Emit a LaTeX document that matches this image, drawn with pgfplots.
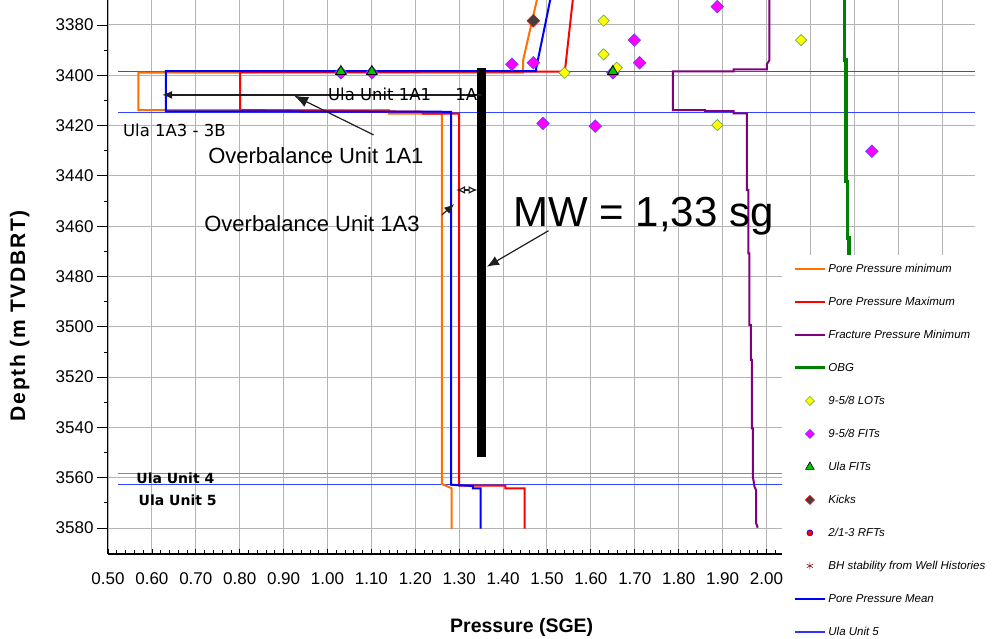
\documentclass[border=0pt]{standalone}
\usepackage{fontspec}
\setmainfont{Liberation Sans}
\newfontfamily\dejavu{DejaVu Sans}
\usepackage{pgfplots}
\pgfplotsset{compat=1.18}
\usetikzlibrary{arrows.meta}
\definecolor{ppmin}{RGB}{255,112,0}
\definecolor{ppmax}{RGB}{255,0,0}
\definecolor{frac}{RGB}{128,0,128}
\definecolor{obg}{RGB}{0,128,0}
\definecolor{ppmean}{RGB}{0,0,255}
\definecolor{ula}{RGB}{50,70,255}
\definecolor{gridc}{RGB}{180,180,180}
\definecolor{lotfill}{RGB}{255,255,0}
\definecolor{lotedge}{RGB}{110,170,80}
\definecolor{fitfill}{RGB}{255,0,255}
\definecolor{fitedge}{RGB}{110,60,255}
\definecolor{ulafit}{RGB}{0,200,0}
\definecolor{kick}{RGB}{64,64,64}
\definecolor{bh}{RGB}{150,20,20}
\definecolor{arr}{RGB}{30,30,30}
\newcommand\legfont{\fontsize{11.5}{13}\selectfont\itshape}
\pgfplotsset{
  legline/.style={legend image code/.code={\draw[##1] (0pt,0pt) -- (30pt,0pt);}},
  legmark/.style={legend image code/.code={\path[draw=none,fill=none] (0pt,0pt) -- (30pt,0pt);\draw[##1] plot coordinates {(15pt,0pt)};}},
}
\begin{document}
\begin{tikzpicture}
\useasboundingbox (-108pt,-85pt) rectangle (887pt,554pt);
\begin{axis}[
  scale only axis, width=867pt, height=554pt, at={(0pt,0pt)}, anchor=south west,
  xmin=0.5, xmax=2.475, ymin=3370.06, ymax=3590.34, y dir=reverse,
  xtick={0.5,0.6,...,2.45}, ytick={3380,3400,...,3580},
  xticklabels={}, yticklabels={},
  major tick length=0pt, minor tick length=0pt,
  axis line style={draw=none},
  grid=major, major grid style={gridc, line width=1pt},
  legend cell align=left,
  legend style={at={(axis cs:2.0358,3471.45)}, anchor=north west, draw=none, fill=white,
    inner xsep=11pt, inner ysep=5.7pt, row sep=17pt, font=\legfont,
    nodes={inner sep=0pt, text height=12pt, text depth=4pt},
    /tikz/every odd column/.append style={column sep=2pt}},
]
% Ula unit lines
\addplot[ula, line width=1pt, forget plot] coordinates {(0.5235,3398.6) (2.475,3398.6)};
\addplot[ula, line width=1pt, forget plot] coordinates {(0.5235,3414.9) (2.475,3414.9)};
\addplot[ula!70, line width=1pt, forget plot] coordinates {(0.5235,3558.3) (2.475,3558.3)};
\addplot[ula, line width=1pt, forget plot] coordinates {(0.5235,3562.8) (2.475,3562.8)};
% OBG
\addplot[obg, line width=3.5pt, forget plot] coordinates {(2.1777,3370) (2.1777,3393.9) (2.1816,3393.9) (2.1816,3442.3) (2.1845,3442.3) (2.1845,3464.7) (2.1877,3464.7) (2.1877,3590)};
% Fracture pressure minimum
\addplot[frac, line width=2pt, forget plot] coordinates {(2.0068,3370) (2.0068,3394) (2.0011,3395.5) (2.0011,3397.6) (1.925,3397.6) (1.925,3398.4) (1.787,3398.4) (1.787,3413.8) (1.860,3413.8) (1.860,3414.2) (1.925,3414.2) (1.925,3415.1) (1.9554,3415.1) (1.9554,3445.6) (1.959,3445.6) (1.959,3470.8) (1.961,3470.8) (1.961,3499.3) (1.9645,3499.3) (1.9645,3513.2) (1.9667,3513.2) (1.9667,3540.4) (1.969,3540.4) (1.969,3559.6) (1.9727,3563.6) (1.9765,3565) (1.9765,3578.1) (1.980,3579.9)};
% Pore pressure minimum
\addplot[ppmin, line width=2pt, forget plot] coordinates {(1.4770,3370) (1.4458,3393.9) (1.4451,3398.9) (0.569,3398.9) (0.569,3413.8) (1.14,3413.8) (1.14,3415.2) (1.2606,3415.2) (1.2606,3562.5) (1.283,3564.2) (1.283,3580.4)};
% Pore pressure maximum
\addplot[ppmax, line width=2pt, forget plot] coordinates {(1.5588,3370) (1.5415,3397.2) (1.5415,3398.5) (0.801,3398.7) (0.801,3413.8) (1.2173,3414.5) (1.2173,3415.2) (1.300,3415.2) (1.300,3563.2) (1.405,3563.2) (1.405,3564.2) (1.449,3564.2) (1.449,3580.2)};
% Pore pressure mean
\addplot[ppmean, line width=2pt, forget plot] coordinates {(1.5073,3370) (1.5034,3373.4) (1.4754,3397.2) (1.4754,3398.3) (0.632,3398.3) (0.632,3414.3) (1.2818,3414.5) (1.2818,3562.8) (1.331,3563.3) (1.331,3564.2) (1.349,3564.2) (1.349,3580.2)};
% 9-5/8 FITs
\addplot[only marks, mark=square*, mark size=4.4pt, mark options={rotate=45, fill=fitfill, draw=fitedge, line width=0.7pt}, forget plot] coordinates {(1.420,3395.6) (1.469,3395) (1.699,3386) (1.711,3395) (1.650,3399) (1.491,3419.1) (1.610,3420.2) (1.888,3372.7) (2.240,3430.2) (1.0305,3399) (1.1011,3399)};
% 9-5/8 LOTs
\addplot[only marks, mark=square*, mark size=4pt, mark options={rotate=45, fill=lotfill, draw=lotedge, line width=0.7pt}, forget plot] coordinates {(1.629,3378.3) (1.629,3391.7) (1.659,3397) (1.540,3399) (2.079,3386) (1.888,3419.8)};
% Kicks
\addplot[only marks, mark=square*, mark size=4.4pt, mark options={rotate=45, fill=kick, draw=red, line width=0.7pt}, forget plot] coordinates {(1.469,3378.3)};
% Ula FITs
\addplot[only marks, mark=triangle*, mark size=6pt, mark options={fill=ulafit, draw=black, line width=0.8pt}, forget plot] coordinates {(1.0305,3398.5) (1.1011,3398.5) (1.650,3398.5)};
% MW bar
\addplot[black, line width=9.3pt, forget plot] coordinates {(1.3509,3397.1) (1.3509,3551.8)};
% annotations
\draw[arr, line width=1.2pt, -{Latex[length=10pt,width=8pt]}] (axis cs:1.355,3407.8) -- (axis cs:0.6235,3407.8);
\draw[arr, line width=1.2pt, -{Latex[length=14pt,width=11pt]}] (axis cs:1.105,3423.7) -- (axis cs:0.924,3408.1);
\draw[arr, line width=1.2pt, -{Latex[length=10pt,width=8pt]}] (axis cs:1.2606,3455.5) -- (axis cs:1.2886,3451.2);
\draw[arr, line width=1.2pt, {Latex[open,length=9pt,width=8pt]}-{Latex[open,length=9pt,width=8pt]}] (axis cs:1.2931,3445.6) -- (axis cs:1.3417,3445.6);
\draw[arr, line width=1.2pt, -{Latex[length=12pt,width=10pt]}] (axis cs:1.5034,3461.8) -- (axis cs:1.3631,3476.1);
\node[anchor=base west, inner sep=0pt, font=\fontsize{16.5}{18}\dejavu] at (axis cs:1.0009,3410.1) {Ula Unit 1A1};
\node[anchor=base west, inner sep=0pt, font=\fontsize{16.5}{18}\dejavu] at (axis cs:1.2909,3410.1) {1A2};
\node[anchor=base west, inner sep=0pt, font=\fontsize{16.5}{18}\dejavu] at (axis cs:0.534,3424.4) {Ula 1A3 - 3B};
\node[anchor=base west, inner sep=0pt, font=\fontsize{22}{24}\selectfont] at (axis cs:0.728,3435.2) {Overbalance Unit 1A1};
\node[anchor=base west, inner sep=0pt, font=\fontsize{22}{24}\selectfont] at (axis cs:0.719,3462.2) {Overbalance Unit 1A3};
\node[anchor=base west, inner sep=0pt, font=\fontsize{42}{46}\selectfont] at (axis cs:1.4226,3460.2) {MW = 1,33 sg};
\node[anchor=base west, inner sep=0pt, font=\fontsize{14}{16}\dejavu\bfseries] at (axis cs:0.5642,3562.2) {Ula Unit 4};
\node[anchor=base west, inner sep=0pt, font=\fontsize{14}{16}\dejavu\bfseries] at (axis cs:0.5695,3570.9) {Ula Unit 5};
% legend
\addlegendimage{legline, ppmin, line width=2pt}
\addlegendentry{Pore Pressure minimum}
\addlegendimage{legline, ppmax, line width=2pt}
\addlegendentry{Pore Pressure Maximum}
\addlegendimage{legline, frac, line width=2pt}
\addlegendentry{Fracture Pressure Minimum}
\addlegendimage{legline, obg, line width=3pt}
\addlegendentry{OBG}
\addlegendimage{legmark, mark=square*, mark size=3.2pt, mark options={rotate=45, fill=lotfill, draw=lotedge, line width=0.6pt}}
\addlegendentry{9-5/8 LOTs}
\addlegendimage{legmark, mark=square*, mark size=3.2pt, mark options={rotate=45, fill=fitfill, draw=fitedge, line width=0.6pt}}
\addlegendentry{9-5/8 FITs}
\addlegendimage{legmark, mark=triangle*, mark size=5pt, mark options={fill=ulafit, draw=black, line width=0.6pt}}
\addlegendentry{Ula FITs}
\addlegendimage{legmark, mark=square*, mark size=3.2pt, mark options={rotate=45, fill=kick, draw=red, line width=0.6pt}}
\addlegendentry{Kicks}
\addlegendimage{legmark, mark=*, mark size=3pt, mark options={fill=red, draw=blue, line width=0.6pt}}
\addlegendentry{2/1-3 RFTs}
\addlegendimage{legmark, mark=asterisk, mark size=3.5pt, mark options={draw=bh, line width=0.6pt}}
\addlegendentry{BH stability from Well Histories}
\addlegendimage{legline, ppmean, line width=2pt}
\addlegendentry{Pore Pressure Mean}
\addlegendimage{legline, ppmean!80!white, line width=1.2pt}
\addlegendentry{Ula Unit 5}
\end{axis}
% x axis with inside ticks and labels
\begin{axis}[
  scale only axis, width=674.2pt, height=554pt, at={(0pt,0pt)}, anchor=south west,
  xmin=0.5, xmax=2.0358, ymin=0, ymax=1,
  hide y axis, axis x line=bottom, x axis line style={-, line width=1.2pt},
  xtick={0.5,0.6,...,2.05}, minor x tick num=4,
  tick align=inside, major tick length=5pt, minor tick length=4pt,
  tick style={black, line width=0.8pt},
  /pgf/number format/assume math mode=true,
  xticklabel style={font=\fontsize{17}{20}\selectfont, yshift=-15.3pt, /pgf/number format/.cd, fixed, fixed zerofill, precision=2},
  xlabel={Pressure (SGE)},
  xlabel style={font=\bfseries\fontsize{19.5}{22}\selectfont, at={(axis description cs:0.6136,-0.1408)}, anchor=base},
]
\end{axis}
% y axis with outside ticks and labels
\begin{axis}[
  scale only axis, width=867pt, height=554pt, at={(0pt,0pt)}, anchor=south west,
  xmin=0, xmax=1, ymin=3370.06, ymax=3590.34, y dir=reverse,
  hide x axis, axis y line=left, y axis line style={-, line width=1pt},
  ytick={3380,3400,...,3580}, minor y tick num=1,
  tick align=outside, major tick length=11pt, minor tick length=4pt,
  tick style={black, line width=0.8pt},
  /pgf/number format/assume math mode=true,
  /pgf/number format/1000 sep={},
  yticklabel style={font=\fontsize{17}{20}\selectfont},
  ylabel={\addfontfeature{LetterSpace=8}Depth (m TVDBRT)},
  ylabel style={font=\bfseries\fontsize{21}{24}\selectfont, at={(axis description cs:-0.1018,0.43)}, anchor=center, rotate=0},
]
\end{axis}
\end{tikzpicture}
\end{document}
